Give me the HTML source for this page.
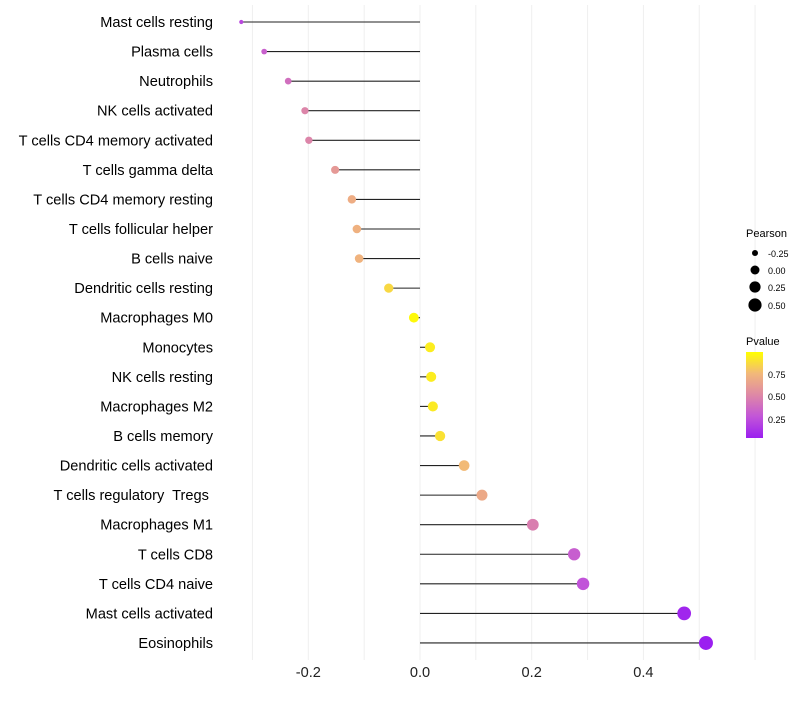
<!DOCTYPE html>
<html><head><meta charset="utf-8"><style>
body{margin:0;background:#fff;font-family:"Liberation Sans",sans-serif}
text{white-space:pre}
</style></head><body>
<svg id="c" width="800" height="700" xmlns="http://www.w3.org/2000/svg">
<defs><linearGradient id="pg" x1="0" y1="1" x2="0" y2="0">
<stop offset="0" stop-color="#9b1ff0"/><stop offset="0.25" stop-color="#c255d8"/><stop offset="0.5" stop-color="#de88a6"/><stop offset="0.75" stop-color="#f2b87a"/><stop offset="1" stop-color="#ffff00"/></linearGradient></defs>
<g id="grid"></g><g id="marks"></g><g id="labels"></g>
<g font-size="10">
<text x="746" y="237" font-size="11">Pearson</text>
<circle cx="755" cy="253" r="3" fill="#000"/><text x="768" y="257" font-size="9">-0.25</text>
<circle cx="755" cy="270" r="4.5" fill="#000"/><text x="768" y="274" font-size="9">0.00</text>
<circle cx="755" cy="287" r="5.6" fill="#000"/><text x="768" y="291" font-size="9">0.25</text>
<circle cx="755" cy="305" r="6.6" fill="#000"/><text x="768" y="309" font-size="9">0.50</text>
</g>
<g>
<text x="746" y="345" font-size="11">Pvalue</text>
<rect x="746" y="352" width="17" height="86" fill="url(#pg)"/>
<text x="768" y="378" font-size="9">0.75</text>
<text x="768" y="400" font-size="9">0.50</text>
<text x="768" y="423" font-size="9">0.25</text>
</g>
</svg>
<script>
const cells=["Mast cells resting","Plasma cells","Neutrophils","NK cells activated","T cells CD4 memory activated","T cells gamma delta","T cells CD4 memory resting","T cells follicular helper","B cells naive","Dendritic cells resting","Macrophages M0","Monocytes","NK cells resting","Macrophages M2","B cells memory","Dendritic cells activated","T cells regulatory  Tregs ","Macrophages M1","T cells CD8","T cells CD4 naive","Mast cells activated","Eosinophils"];
const pearson=[-0.32,-0.279,-0.236,-0.206,-0.199,-0.152,-0.122,-0.113,-0.109,-0.056,-0.011,0.018,0.020,0.023,0.036,0.079,0.111,0.202,0.276,0.292,0.473,0.512];
const pvalue=[0.22,0.33,0.4,0.5,0.5,0.6,0.7,0.72,0.73,0.86,0.97,0.93,0.93,0.92,0.89,0.76,0.68,0.47,0.32,0.27,0.07,0.04];
const xticks=[-0.2,0,0.2,0.4];
const xtickLabels=["-0.2","0.0","0.2","0.4"];
const NS="http://www.w3.org/2000/svg";
const x=v=>420+v*558.5;
const y=i=>22+i*29.57;
const rad=v=>1.5+5.5*Math.sqrt(Math.max(0,(v+0.33)/0.84));
const stops=[[0,[155,31,240]],[0.25,[194,85,216]],[0.5,[222,136,166]],[0.75,[242,184,122]],[1,[255,255,0]]];
function col(p){const t=Math.min(1,Math.max(0,(p-0.04)/0.95));for(let k=1;k<stops.length;k++){if(t<=stops[k][0]){const a=stops[k-1],b=stops[k],f=(t-a[0])/(b[0]-a[0]);return "rgb("+a[1].map((c,j)=>Math.round(c+(b[1][j]-c)*f)).join(",")+")";}}return "rgb(255,255,0)";}
function mk(tag,at,par){const e=document.createElementNS(NS,tag);for(const k in at)e.setAttribute(k,at[k]);par.appendChild(e);return e;}
const g=document.getElementById('grid'),m=document.getElementById('marks'),l=document.getElementById('labels');
for(let v=-0.3;v<=0.61;v+=0.1){const gl=mk('line',{x1:x(v),x2:x(v),y1:5,y2:660,stroke:'#efefef','stroke-width':1},g);

}
cells.forEach((c,i)=>{
const t=mk('text',{x:213,y:y(i)+5,'text-anchor':'end','font-size':14.6,fill:'#000'},l);t.textContent=c;


const ln=mk('line',{x1:x(0),x2:x(pearson[i]),y1:y(i),y2:y(i),stroke:'#222','stroke-width':1.1},m);


const ci=mk('circle',{cx:x(pearson[i]),cy:y(i),r:rad(pearson[i]),fill:col(pvalue[i])},m);


});
xticks.forEach((v,i)=>{const t=mk('text',{x:x(v),y:677,'text-anchor':'middle','font-size':14.6,fill:'#222'},l);t.textContent=xtickLabels[i];

});
</script>
</body></html>
